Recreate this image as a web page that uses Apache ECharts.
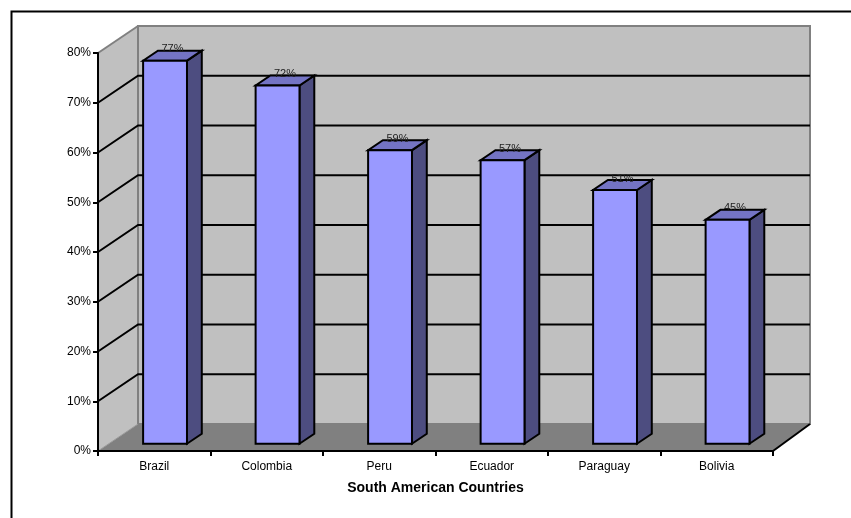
<!DOCTYPE html>
<html>
<head>
<meta charset="utf-8">
<script src="https://cdn.jsdelivr.net/npm/echarts@6/dist/echarts.min.js"></script>
<style>
  html, body { margin: 0; padding: 0; background: #fff; }
  #chart { width: 851px; height: 518px; }
</style>
</head>
<body>
<div id="chart"></div>
<script>
var categories = ['Brazil', 'Colombia', 'Peru', 'Ecuador', 'Paraguay', 'Bolivia'];
var values = [0.77, 0.72, 0.59, 0.57, 0.51, 0.45];
var yTicks = [0, 0.1, 0.2, 0.3, 0.4, 0.5, 0.6, 0.7, 0.8];

// depth of the fake 3d box, pixels
var DX = 40, DY = -27;

function pct(v) { return Math.round(v * 100) + '%'; }

var myChart = echarts.init(document.getElementById('chart'));

function renderWalls(params, api) {
  var cs = params.coordSys;
  var x0 = cs.x, x1 = cs.x + cs.width;
  var yb = api.coord([0, 0])[1];
  var yt = api.coord([0, 0.8])[1];
  var rx = x1 + DX - 3; // back right edge sits a bit closer
  var kids = [];
  // side wall
  kids.push({type: 'polygon', shape: {points: [[x0, yb], [x0, yt], [x0 + DX, yt + DY], [x0 + DX, yb + DY]]},
    style: {fill: '#c0c0c0', stroke: null}});
  // back wall
  kids.push({type: 'rect', shape: {x: x0 + DX, y: yt + DY, width: rx - x0 - DX, height: yb - yt},
    style: {fill: '#c0c0c0', stroke: '#808080', lineWidth: 2}});
  // floor
  kids.push({type: 'polygon', shape: {points: [[x0, yb], [x1, yb], [rx, yb + DY], [x0 + DX, yb + DY]]},
    style: {fill: '#808080', stroke: null}});
  kids.push({type: 'line', shape: {x1: x1, y1: yb, x2: rx, y2: yb + DY},
    style: {stroke: '#000', lineWidth: 2}});
  kids.push({type: 'line', shape: {x1: x0, y1: yb, x2: x0 + DX, y2: yb + DY},
    style: {stroke: '#9a9a9a', lineWidth: 1}});
  kids.push({type: 'line', shape: {x1: x0 + DX, y1: yt + DY, x2: x0 + DX, y2: yb + DY},
    style: {stroke: '#808080', lineWidth: 1}});
  kids.push({type: 'line', shape: {x1: x0, y1: yt, x2: x0 + DX, y2: yt + DY},
    style: {stroke: '#808080', lineWidth: 2}});
  // gridlines on side and back wall
  yTicks.forEach(function (t) {
    if (t === 0 || t === 0.8) return;
    var y = api.coord([0, t])[1];
    kids.push({type: 'polyline', shape: {points: [[x0, y], [x0 + DX, y + DY], [rx, y + DY]]},
      style: {stroke: '#000', lineWidth: 2, fill: null}});
  });
  return {type: 'group', children: kids};
}

function renderBar(params, api) {
  var i = api.value(0), v = api.value(1);
  var top = api.coord([i, v]);
  var base = api.coord([i, 0]);
  var band = api.size([1, 0])[0];
  var bw = band * 0.39;
  var f1 = 0.27, f2 = 0.64;
  var ox = f1 * DX, oy = f1 * DY;
  var bx = (f2 - f1) * DX, by = (f2 - f1) * DY;
  var l = top[0] - bw / 2 + ox, r = top[0] + bw / 2 + ox;
  var ty = top[1] + oy, by0 = base[1] + oy;
  var edge = {stroke: '#000', lineWidth: 2, lineJoin: 'miter'};
  return {type: 'group', children: [
    {type: 'polygon', shape: {points: [[r, by0], [r, ty], [r + bx, ty + by], [r + bx, by0 + by]]},
      style: Object.assign({fill: '#4d4d80'}, edge)},
    {type: 'polygon', shape: {points: [[l, ty], [r, ty], [r + bx, ty + by], [l + bx, ty + by]]},
      style: Object.assign({fill: '#7474c4'}, edge)},
    {type: 'rect', shape: {x: l, y: ty, width: r - l, height: by0 - ty},
      style: Object.assign({fill: '#9999ff'}, edge)},
    {type: 'text', x: (l + r) / 2 + bx / 2, y: ty + by + 4,
      style: {text: pct(v), fill: '#222', font: '11px Arial, "Liberation Sans"', align: 'center', verticalAlign: 'bottom'}}
  ]};
}

var option = {
  animation: false,
  graphic: [{
    type: 'rect', left: 9, top: 9, shape: {width: 900, height: 600},
    style: {fill: null, stroke: '#000', lineWidth: 2}, z: -10
  }],
  grid: {left: 98, right: 78, top: 53, bottom: 67},
  xAxis: {
    type: 'category',
    data: categories,
    axisLine: {lineStyle: {color: '#000', width: 2}},
    axisTick: {show: true, length: 5, lineStyle: {color: '#000', width: 2}},
    axisLabel: {color: '#000', fontFamily: 'Arial, "Liberation Sans"', fontSize: 12, margin: 10},
    name: 'South American Countries',
    nameLocation: 'middle',
    nameGap: 30,
    nameTextStyle: {color: '#000', fontFamily: 'Arial, "Liberation Sans"', fontSize: 14, fontWeight: 'bold'}
  },
  yAxis: {
    type: 'value',
    min: 0, max: 0.8, interval: 0.1,
    splitLine: {show: false},
    axisLine: {show: true, lineStyle: {color: '#000', width: 2}},
    axisTick: {show: true, length: 5, lineStyle: {color: '#000', width: 2}},
    axisLabel: {color: '#000', fontFamily: 'Arial, "Liberation Sans"', fontSize: 12, margin: 7, formatter: pct}
  },
  series: [
    {type: 'custom', z: -1, renderItem: renderWalls, data: [[0, 0]], silent: true},
    {type: 'custom', z: 2, renderItem: renderBar,
      data: categories.map(function (c, i) { return [i, values[i]]; })}
  ]
};
myChart.setOption(option);
</script>
</body>
</html>
